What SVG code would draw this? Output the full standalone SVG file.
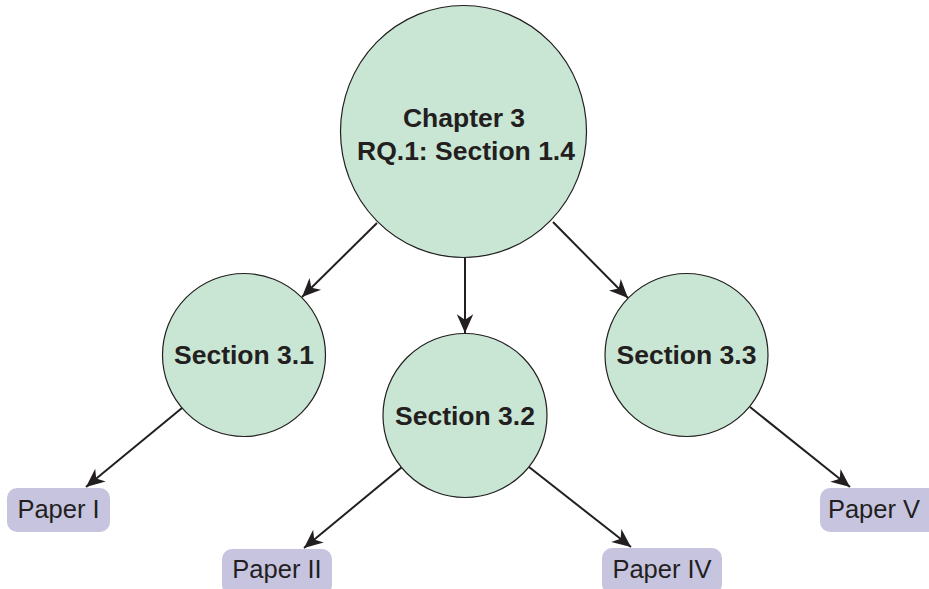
<svg xmlns="http://www.w3.org/2000/svg" width="929" height="589" viewBox="0 0 929 589">
  <style>
    .topic { fill: #c9e5d4; stroke: #231f20; stroke-width: 1.2; }
    .paper { fill: #c7c4e0; stroke: none; }
    .lbl { font-family: "Liberation Sans", Arial, sans-serif; fill: #231f20; text-anchor: middle; }
    .bold { font-weight: bold; font-size: 26.5px; }
    .plain { font-size: 25.5px; }
    .edge { stroke: #231f20; stroke-width: 2; fill: none; marker-end: url(#head); }
  </style>
  <defs>
    <marker id="head" markerUnits="userSpaceOnUse" markerWidth="22" markerHeight="22" viewBox="-18 -9 20 18" refX="0" refY="0" orient="auto">
      <path d="M0,0 L-17,-7.5 L-12,0 L-17,7.5 Z" fill="#231f20"/>
    </marker>
  </defs>

  <!-- connectors -->
  <g id="connectors">
    <line class="edge" x1="377" y1="223" x2="302" y2="297"/>
    <line class="edge" x1="465" y1="258" x2="465" y2="333"/>
    <line class="edge" x1="553" y1="222" x2="628" y2="298"/>
    <line class="edge" x1="182" y1="408" x2="86" y2="487"/>
    <line class="edge" x1="402" y1="467" x2="304" y2="548"/>
    <line class="edge" x1="529" y1="467" x2="631" y2="547"/>
    <line class="edge" x1="750" y1="407" x2="850" y2="487"/>
  </g>

  <!-- chapter node -->
  <g id="chapter3">
    <ellipse class="topic" cx="463.5" cy="131.5" rx="123" ry="126"/>
    <text class="lbl bold" x="464" y="127">Chapter 3</text>
    <text class="lbl bold" x="466" y="160">RQ.1: Section 1.4</text>
  </g>

  <!-- section nodes -->
  <g id="section31">
    <circle class="topic" cx="244" cy="355" r="81.5"/>
    <text class="lbl bold" x="244" y="364">Section 3.1</text>
  </g>
  <g id="section32">
    <circle class="topic" cx="465" cy="415.5" r="82"/>
    <text class="lbl bold" x="465" y="425">Section 3.2</text>
  </g>
  <g id="section33">
    <circle class="topic" cx="686.5" cy="355" r="81.5"/>
    <text class="lbl bold" x="686.5" y="364">Section 3.3</text>
  </g>

  <!-- paper nodes -->
  <g id="paper1">
    <rect class="paper" x="7" y="488" width="103" height="44" rx="10"/>
    <text class="lbl plain" x="58.5" y="518">Paper I</text>
  </g>
  <g id="paper2">
    <rect class="paper" x="222" y="549" width="110" height="46" rx="10"/>
    <text class="lbl plain" x="277" y="578">Paper II</text>
  </g>
  <g id="paper4">
    <rect class="paper" x="602" y="548" width="120" height="46" rx="10"/>
    <text class="lbl plain" x="662" y="578">Paper IV</text>
  </g>
  <g id="paper5">
    <rect class="paper" x="820" y="488" width="118" height="44" rx="10"/>
    <text class="lbl plain" x="874" y="518">Paper V</text>
  </g>
</svg>
